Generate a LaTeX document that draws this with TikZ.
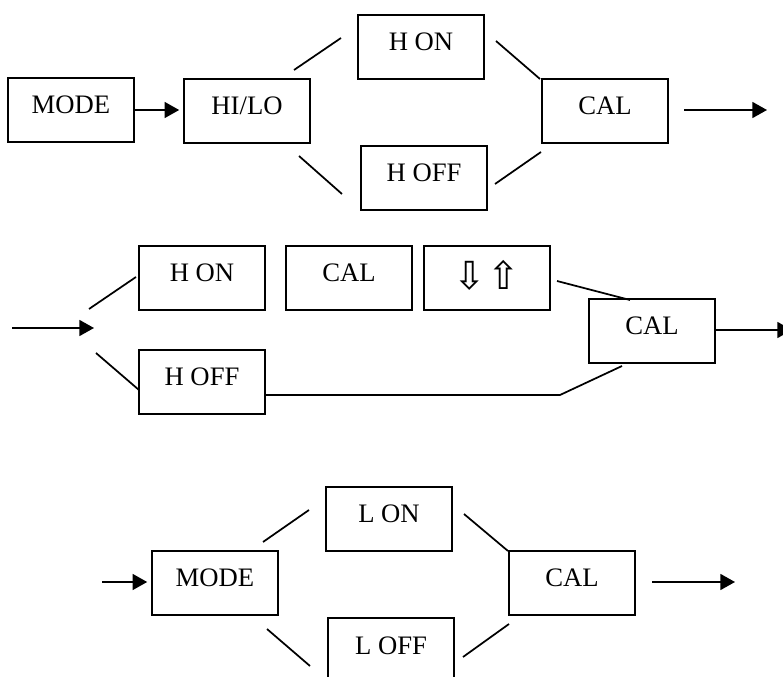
\documentclass[tikz,border=0pt]{standalone}
\usepackage{fontspec}
\setmainfont{Liberation Serif}
\newfontfamily\symfont{DejaVu Sans}
\usetikzlibrary{arrows.meta,calc}
\begin{document}
\begin{tikzpicture}[x=0.75pt,y=-0.75pt,
  box/.style={draw,line width=1.2pt,minimum width=94.5pt,minimum height=48pt,inner sep=0pt,
    font=\fontsize{20}{24}\selectfont,text height=10pt,text depth=4pt},
  ln/.style={line width=1.3pt},
  arr/.style={line width=1.3pt,-{Triangle[length=11pt,width=12pt]}}]
\useasboundingbox (0,0) rectangle (783,677);
% Row 1
\node[box] (mode1) at (71,110) {MODE};
\node[box] (hilo) at (247,111) {HI/LO};
\node[box] (hon1) at (421,47) {H ON};
\node[box] (hoff1) at (424,178) {H OFF};
\node[box] (cal1) at (605,111) {CAL};
\draw[arr,shorten >=3pt] (mode1.east) -- (mode1.east -| hilo.west);
\coordinate (a1) at (294,70); \coordinate (a2) at (341,38);
\coordinate (b1) at (299,156); \coordinate (b2) at (342,194);
\coordinate (c1) at (496,41); \coordinate (c2) at (540,79);
\coordinate (d1) at (495,184); \coordinate (d2) at (541,152);
\draw[ln] (a1) -- (a2);
\draw[ln] (b1) -- (b2);
\draw[ln] (c1) -- (c2);
\draw[ln] (d1) -- (d2);
\coordinate (o1s) at (684,110); \coordinate (o1e) at (767,110);
\draw[arr] (o1s) -- (o1e);
% Row 2
\node[box] (hon2) at (202,278) {H ON};
\node[box] (cal2a) at (349,278) {CAL};
\node[box,text height=20pt,text depth=2pt,font=\symfont\fontsize{29}{30}\selectfont] (updown) at (487,278) {⇩\hspace{1pt}⇧};
\node[box] (hoff2) at (202,382) {H OFF};
\node[box] (cal2b) at (652,331) {CAL};
\coordinate (i2s) at (12,328); \coordinate (i2e) at (94,328);
\draw[arr] (i2s) -- (i2e);
\coordinate (e1) at (89,309); \coordinate (e2) at (136,277);
\coordinate (f1) at (96,353); \coordinate (f2) at (139,390);
\draw[ln] (e1) -- (e2);
\draw[ln] (f1) -- (f2);
\coordinate (g1) at (557,281); \coordinate (g2) at (630,300);
\draw[ln] (g1) -- (g2);
\coordinate (h1) at (560,395); \coordinate (h2) at (622,366);
\draw[ln] (hoff2.east |- h1) -- (h1) -- (h2);
\coordinate (o2e) at (792,330);
\draw[arr] (cal2b.east |- o2e) -- (o2e);
% Row 3
\node[box] (mode3) at (215,583) {MODE};
\node[box] (lon) at (389,519) {L ON};
\node[box] (loff) at (391,650) {L OFF};
\node[box] (cal3) at (572,583) {CAL};
\coordinate (i3s) at (102,582);
\draw[arr,shorten >=3pt] (i3s) -- (i3s -| mode3.west);
\coordinate (j1) at (263,542); \coordinate (j2) at (309,510);
\coordinate (k1) at (267,629); \coordinate (k2) at (310,666);
\coordinate (m1) at (464,514); \coordinate (m2) at (508,551);
\coordinate (n1) at (463,657); \coordinate (n2) at (509,624);
\draw[ln] (j1) -- (j2);
\draw[ln] (k1) -- (k2);
\draw[ln] (m1) -- (m2);
\draw[ln] (n1) -- (n2);
\coordinate (o3s) at (652,582); \coordinate (o3e) at (735,582);
\draw[arr] (o3s) -- (o3e);
\end{tikzpicture}
\end{document}
